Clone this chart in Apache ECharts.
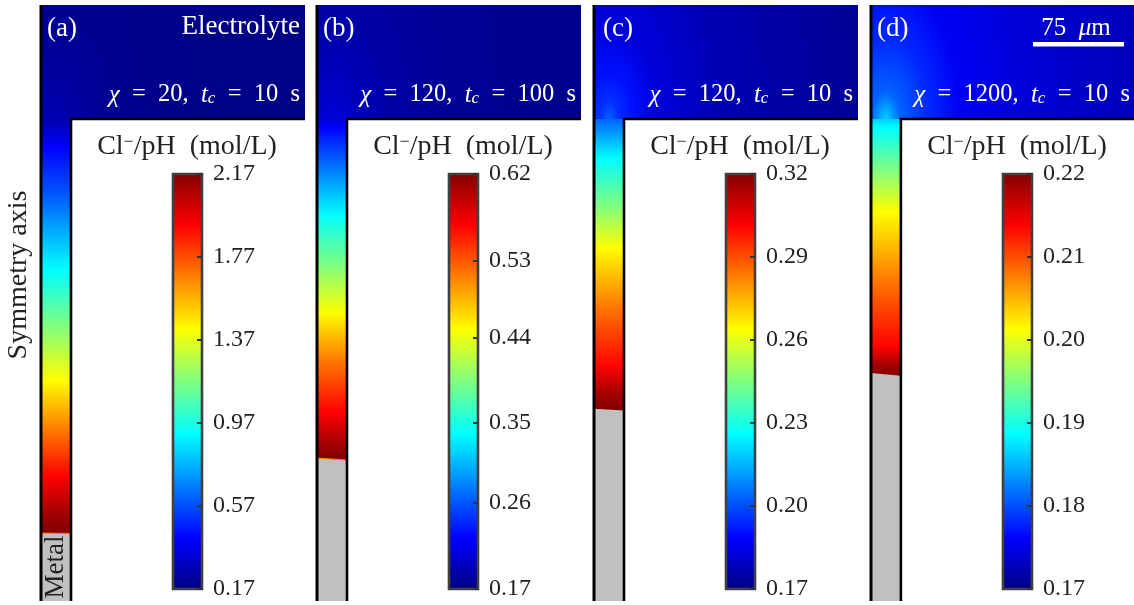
<!DOCTYPE html>
<html><head><meta charset="utf-8">
<style>html,body{margin:0;padding:0;background:#fff}#c{width:1134px;height:605px}</style>
<script src="https://cdn.jsdelivr.net/npm/echarts@6/dist/echarts.min.js"></script>
</head><body><div id="c"></div>
<script>
// Distance below the pit mouth (um) and Cl-/pH (mol/L) along each pit
const pitDepthA = [0, 23, 63, 92.5, 126, 172, 217.5, 259, 298, 326, 345];
const pitValueA = [0.25, 0.42, 0.59, 0.75, 0.92, 1.17, 1.42, 1.68, 1.92, 2.09, 2.17];
const pitDepthB = [0, 7, 42, 80, 122, 161, 201, 244, 267.5, 284];
const pitValueB = [0.21, 0.226, 0.28, 0.34, 0.395, 0.45, 0.51, 0.564, 0.60, 0.62];
const pitDepthC = [0, 32.5, 72, 107.5, 155, 206, 227.5, 243];
const pitValueC = [0.203, 0.226, 0.245, 0.264, 0.283, 0.301, 0.314, 0.32];
const pitDepthD = [0, 7.5, 42.5, 77.5, 134, 190, 204, 214];
const pitValueD = [0.1865, 0.1888, 0.195, 0.2013, 0.2078, 0.2138, 0.218, 0.22];
// Distance from the pit mouth (um, vertical distance compressed) and Cl-/pH (mol/L) in the electrolyte
const radiusA = [0, 20, 50, 100, 230];
const bulkValueA = [0.27, 0.23, 0.20, 0.186, 0.178];
const radiusB = [0, 20, 50, 100, 230];
const bulkValueB = [0.21, 0.197, 0.186, 0.179, 0.1745];
const radiusC = [0, 8, 20, 40, 95, 207, 230];
const bulkValueC = [0.203, 0.1955, 0.191, 0.1835, 0.1775, 0.173, 0.1725];
const radiusD = [0, 12, 35, 62, 118, 200, 230];
const bulkValueD = [0.1865, 0.181, 0.17825, 0.17575, 0.17425, 0.173, 0.17275];
// Corrosion front depth at the axis and at the pit wall (um)
const frontA = [345, 345.5];
const frontB = [282.5, 284.3];
const frontC = [241.5, 243];
const frontD = [211.7, 214];
// Colour bar ticks
const ticksA = [0.17, 0.57, 0.97, 1.37, 1.77, 2.17];
const ticksB = [0.17, 0.264, 0.35, 0.442, 0.526, 0.62];
const ticksC = [0.17, 0.20, 0.23, 0.26, 0.29, 0.32];
const ticksD = [0.17, 0.18, 0.19, 0.20, 0.21, 0.22];
const panelLetters = ['(a)', '(b)', '(c)', '(d)'];
const chiValues = ['20', '120', '120', '1200'];
const tcValues = ['10', '100', '10', '10'];

const panels = [
  {depth: pitDepthA, val: pitValueA, r: radiusA, bulk: bulkValueA, front: frontA, ticks: ticksA, left: 41, edge: true},
  {depth: pitDepthB, val: pitValueB, r: radiusB, bulk: bulkValueB, front: frontB, ticks: ticksB, left: 317, edge: true},
  {depth: pitDepthC, val: pitValueC, r: radiusC, bulk: bulkValueC, front: frontC, ticks: ticksC, left: 594, edge: false},
  {depth: pitDepthD, val: pitValueD, r: radiusD, bulk: bulkValueD, front: frontD, ticks: ticksD, left: 871, edge: false}
];
const jetKnots = [[0,[0,0,128]],[.125,[0,0,255]],[.375,[0,255,255]],[.625,[255,255,0]],[.875,[255,0,0]],[1,[128,0,0]]];
function jet(t){
  t = Math.max(0, Math.min(1, t));
  for (let i = 1; i < jetKnots.length; i++) {
    if (t <= jetKnots[i][0]) {
      const a = jetKnots[i-1], b = jetKnots[i], f = (t-a[0])/(b[0]-a[0]);
      return 'rgb(' + a[1].map((c,k)=>Math.round(c+(b[1][k]-c)*f)).join(',') + ')';
    }
  }
}
const PIT_W = 25, X_MAX = 220, Y_TOP = -95, Y_BOTTOM = 401.67, STRETCH = 1.9;
const grids = [], xAxes = [], yAxes = [], series = [], graphics = [];
const serif = '"Liberation Serif", serif';
panels.forEach((p, n) => {
  const vMin = p.ticks[0], vMax = p.ticks[5], norm = v => (v-vMin)/(vMax-vMin);
  const gMain = grids.length;
  grids.push({left: p.left, top: 5, width: 264, height: 596});
  xAxes.push({type:'value', gridIndex:gMain, min:0, max:X_MAX, show:false});
  yAxes.push({type:'value', gridIndex:gMain, min:Y_TOP, max:Y_BOTTOM, inverse:true, show:false});
  // electrolyte
  series.push({type:'custom', xAxisIndex:gMain, yAxisIndex:gMain, silent:true, animation:false, z:2, clip:false,
    data:[[0,0]],
    renderItem:(params, api)=>{
      const c = api.coord([PIT_W/2, 0]), a = api.coord([0, Y_TOP]), b = api.coord([X_MAX, 0]);
      const last = p.r[p.r.length-1], R = api.coord([PIT_W/2+last, 0])[0]-c[0];
      const stops = p.r.map((r,i)=>({offset:r/last, color:jet(norm(p.bulk[i]))}));
      return {type:'rect', originX:0, originY:c[1], scaleX:1, scaleY:STRETCH,
        shape:{x:a[0], y:c[1]+(a[1]-c[1])/STRETCH, width:b[0]-a[0], height:(b[1]-a[1])/STRETCH},
        style:{fill:new echarts.graphic.RadialGradient(c[0], c[1], R, stops, true)}};
    }});
  // pit
  series.push({type:'custom', xAxisIndex:gMain, yAxisIndex:gMain, silent:true, animation:false, z:3, clip:false,
    data:p.depth.map((d,i)=>[d,p.val[i]]),
    renderItem:(params, api)=>{
      const i = params.dataIndex;
      if (i >= p.depth.length-1) return {type:'group', children:[]};
      const a = api.coord([0, p.depth[i]]), b = api.coord([PIT_W, p.depth[i+1]]);
      const h = b[1]-a[1];
      return {type:'rect', shape:{x:a[0], y:a[1], width:b[0]-a[0], height:h+1},
        style:{fill:{type:'linear', x:0, y:0, x2:0, y2:h/(h+1), colorStops:[
          {offset:0, color:jet(norm(p.val[i]))},{offset:1, color:jet(norm(p.val[i+1]))}]}}};
    }});
  // metal, front, walls
  series.push({type:'custom', xAxisIndex:gMain, yAxisIndex:gMain, silent:true, animation:false, z:4, clip:false,
    data:[p.front],
    renderItem:(params, api)=>{
      const pt = (x,y)=>api.coord([x,y]);
      const children = [
        {type:'polygon', shape:{points:[pt(0,p.front[0]), pt(PIT_W,p.front[1]), pt(PIT_W,Y_BOTTOM), pt(0,Y_BOTTOM)]}, style:{fill:'#c0c0c0'}}
      ];
      if (p.edge) children.push({type:'polyline', shape:{points:[pt(0,p.front[0]), pt(PIT_W,p.front[1])]}, style:{stroke:'#ff7a10', lineWidth:1.2, fill:null}});
      children.push({type:'polyline', shape:{points:[pt(0,Y_TOP), pt(0,Y_BOTTOM)]}, style:{stroke:'#000', lineWidth:3, fill:null}});
      children.push({type:'polyline', shape:{points:[pt(PIT_W,Y_BOTTOM), pt(PIT_W,0), pt(X_MAX,0)]}, style:{stroke:'#000', lineWidth:2.6, fill:null}});
      return {type:'group', children};
    }});
  // colour bar
  const gBar = grids.length;
  const barLeft = p.left + 132;
  grids.push({left: barLeft, top: 174, width: 29, height: 415});
  xAxes.push({type:'value', gridIndex:gBar, min:0, max:1, show:false});
  yAxes.push({type:'value', gridIndex:gBar, min:vMin, max:vMax, position:'right', z:10,
    splitLine:{show:false}, axisLine:{show:false, onZero:false},
    axisTick:{show:true, inside:true, length:5, lineStyle:{color:'#333', width:2}, customValues:p.ticks},
    axisLabel:{show:true, margin:11, color:'#222', fontFamily:serif, fontSize:24, customValues:p.ticks,
      formatter:v=>Number(v).toFixed(2)}});
  series.push({type:'custom', xAxisIndex:gBar, yAxisIndex:gBar, silent:true, animation:false, z:2, clip:false,
    data:[[vMin, vMax]],
    renderItem:(params, api)=>{
      const a = api.coord([0, vMax]), b = api.coord([1, vMin]);
      return {type:'rect', shape:{x:a[0], y:a[1], width:b[0]-a[0], height:b[1]-a[1]},
        style:{stroke:'#404040', lineWidth:2.6, fill:{type:'linear', x:0, y:0, x2:0, y2:1,
          colorStops:jetKnots.map(k=>({offset:1-k[0], color:jet(k[0])})).reverse()}}};
    }});
  // texts
  const right = p.left + 259;
  const rich = {i:{fontStyle:'italic', fontFamily:serif, fontSize:25, fill:'#fff'},
                s:{fontStyle:'italic', fontFamily:serif, fontSize:17, fill:'#fff', verticalAlign:'bottom', padding:[8,0,0,0]}};
  const letterX = [47, 323, 603, 877][n];
  graphics.push({type:'text', z:100, x:letterX, y:29, style:{text:panelLetters[n], fontFamily:serif, fontSize:27, fill:'#fff', align:'left', verticalAlign:'middle'}});
  graphics.push({type:'text', z:100, x:right, y:95, style:{
    text:'{i|χ}  =  '+chiValues[n]+',  {i|t}{s|c}  =  '+tcValues[n]+'  s', rich,
    fontFamily:serif, fontSize:24.5, fill:'#fff', align:'right', verticalAlign:'middle'}});
  graphics.push({type:'text', z:100, x:p.left+146, y:147, style:{
    text:'Cl{u|−}/pH  (mol/L)', rich:{u:{fontFamily:serif, fontSize:18, fill:'#222', verticalAlign:'top', padding:[0,0,8,0]}},
    fontFamily:serif, fontSize:28, fill:'#222', align:'center', verticalAlign:'middle'}});
});
graphics.push({type:'text', z:100, x:300, y:27, style:{text:'Electrolyte', fontFamily:serif, fontSize:27, fill:'#fff', align:'right', verticalAlign:'middle'}});
graphics.push({type:'text', z:100, x:1076, y:28, style:{text:'75  {i|μ}m', rich:{i:{fontStyle:'italic', fontFamily:serif, fontSize:25, fill:'#fff'}}, fontFamily:serif, fontSize:25, fill:'#fff', align:'center', verticalAlign:'middle'}});
graphics.push({type:'rect', z:100, shape:{x:1033, y:42, width:91, height:4.5}, style:{fill:'#fff'}});
graphics.push({type:'text', z:100, x:19, y:275, rotation:Math.PI/2, style:{text:'Symmetry axis', fontFamily:serif, fontSize:28, fill:'#222', align:'center', verticalAlign:'middle'}});
graphics.push({type:'text', z:100, x:56, y:567, rotation:Math.PI/2, style:{text:'Metal', fontFamily:serif, fontSize:27, fill:'#222', align:'center', verticalAlign:'middle'}});

const chart = echarts.init(document.getElementById('c'), null, {renderer:'canvas'});
chart.setOption({animation:false, backgroundColor:'#fff', grid:grids, xAxis:xAxes, yAxis:yAxes, series, graphic:{elements:graphics}});
</script></body></html>
